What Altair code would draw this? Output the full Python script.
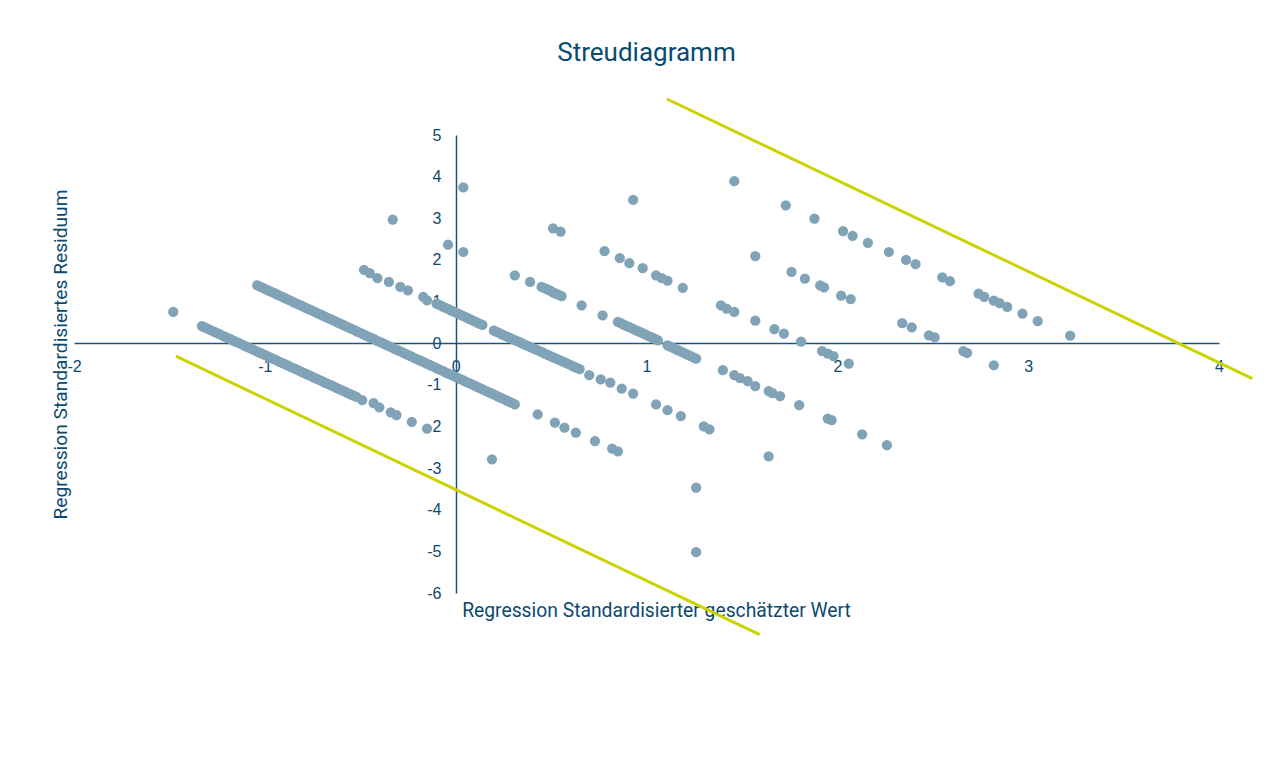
import altair as alt
import pandas as pd

# ---- tick labels ----
x_ticks = [-2, -1, 0, 1, 2, 3, 4]
y_ticks = [-6, -5, -4, -3, -2, -1, 0, 1, 2, 3, 4, 5]

# ---- scatter bands (x = standardized predicted value, y = standardized residual) ----
# band A: isolated first point, dense streak, then separate points
band_a_x = [-1.48,
            -1.330, -1.315, -1.300, -1.285, -1.270, -1.255, -1.240, -1.225, -1.210, -1.195, -1.180,
            -1.165, -1.150, -1.135, -1.120, -1.105, -1.090, -1.075, -1.060, -1.045, -1.030, -1.015,
            -1.000, -0.985, -0.970, -0.955, -0.940, -0.925, -0.910, -0.895, -0.880, -0.865, -0.850,
            -0.835, -0.820, -0.805, -0.790, -0.775, -0.760, -0.745, -0.730, -0.715, -0.700, -0.685,
            -0.670, -0.655, -0.640, -0.625, -0.610, -0.595, -0.580, -0.565, -0.550, -0.535, -0.520,
            -0.49, -0.43, -0.40, -0.34, -0.31, -0.23, -0.15, 0.19, 1.26]
band_a_y = [0.75,
            0.410, 0.379, 0.347, 0.316, 0.284, 0.253, 0.221, 0.190, 0.158, 0.127, 0.095,
            0.064, 0.032, 0.001, -0.031, -0.063, -0.094, -0.126, -0.157, -0.189, -0.220, -0.252,
            -0.283, -0.315, -0.346, -0.378, -0.409, -0.441, -0.472, -0.504, -0.535, -0.567, -0.598,
            -0.630, -0.661, -0.693, -0.724, -0.756, -0.787, -0.819, -0.850, -0.882, -0.913, -0.945,
            -0.976, -1.008, -1.039, -1.071, -1.102, -1.134, -1.165, -1.197, -1.228, -1.260, -1.291,
            -1.37, -1.44, -1.54, -1.66, -1.73, -1.89, -2.05, -2.79, -5.02]

band_b_x = [-1.040, -1.025, -1.010, -0.995, -0.980, -0.965, -0.950, -0.935, -0.920, -0.905, -0.890,
            -0.875, -0.860, -0.845, -0.830, -0.815, -0.800, -0.785, -0.770, -0.755, -0.740, -0.725,
            -0.710, -0.695, -0.680, -0.665, -0.650, -0.635, -0.620, -0.605, -0.590, -0.575, -0.560,
            -0.545, -0.530, -0.515, -0.500, -0.485, -0.470, -0.455, -0.440, -0.425, -0.410, -0.395,
            -0.380, -0.365, -0.350, -0.335, -0.320, -0.305, -0.290, -0.275, -0.260, -0.245, -0.230,
            -0.215, -0.200, -0.185, -0.170, -0.155, -0.140, -0.125, -0.110, -0.095, -0.080, -0.065,
            -0.050, -0.035, -0.020, -0.005, 0.010, 0.025, 0.040, 0.055, 0.070, 0.085, 0.100,
            0.115, 0.130, 0.145, 0.160, 0.175, 0.190, 0.205, 0.220, 0.235, 0.250, 0.265, 0.280,
            0.295, 0.310,
            0.43, 0.52, 0.57, 0.63, 0.73, 0.82, 0.85, 1.26]
band_b_y = [1.390, 1.358, 1.327, 1.295, 1.263, 1.231, 1.200, 1.168, 1.136, 1.104, 1.073,
            1.041, 1.009, 0.977, 0.946, 0.914, 0.882, 0.850, 0.819, 0.787, 0.755, 0.723,
            0.692, 0.660, 0.628, 0.597, 0.565, 0.533, 0.501, 0.470, 0.438, 0.406, 0.374,
            0.343, 0.311, 0.279, 0.247, 0.216, 0.184, 0.152, 0.120, 0.089, 0.057, 0.025,
            -0.007, -0.038, -0.070, -0.102, -0.134, -0.165, -0.197, -0.229, -0.260, -0.292, -0.324,
            -0.356, -0.387, -0.419, -0.451, -0.483, -0.514, -0.546, -0.578, -0.610, -0.641, -0.673,
            -0.705, -0.737, -0.768, -0.800, -0.832, -0.864, -0.895, -0.927, -0.959, -0.991, -1.022,
            -1.054, -1.086, -1.117, -1.149, -1.181, -1.213, -1.244, -1.276, -1.308, -1.340, -1.371,
            -1.403, -1.435, -1.467,
            -1.71, -1.91, -2.03, -2.15, -2.35, -2.53, -2.60, -3.47]

band_c_x = [-0.48, -0.45, -0.41, -0.35, -0.29, -0.25, -0.17, -0.15,
            -0.100, -0.085, -0.070, -0.055, -0.040, -0.025, -0.010, 0.005, 0.020, 0.035, 0.050,
            0.065, 0.080, 0.095, 0.110, 0.125, 0.140,
            0.200, 0.215, 0.230, 0.245, 0.260, 0.275, 0.290, 0.305, 0.320, 0.335, 0.350, 0.365,
            0.380, 0.395, 0.410, 0.425, 0.440, 0.455, 0.470, 0.485, 0.500, 0.515, 0.530, 0.545,
            0.560, 0.575, 0.590, 0.605, 0.620, 0.635, 0.650,
            0.70, 0.76, 0.81, 0.87, 0.93, 1.05, 1.11, 1.18, 1.30, 1.33, 1.64]
band_c_y = [1.76, 1.68, 1.56, 1.47, 1.35, 1.27, 1.11, 1.03,
            0.950, 0.918, 0.886, 0.854, 0.822, 0.790, 0.758, 0.726, 0.694, 0.662, 0.630,
            0.598, 0.566, 0.534, 0.502, 0.470, 0.438,
            0.300, 0.269, 0.239, 0.208, 0.177, 0.146, 0.116, 0.085, 0.054, 0.023, -0.008, -0.038,
            -0.069, -0.100, -0.131, -0.161, -0.192, -0.223, -0.254, -0.284, -0.315, -0.346, -0.377, -0.407,
            -0.438, -0.469, -0.500, -0.530, -0.561, -0.592, -0.623,
            -0.77, -0.87, -0.95, -1.09, -1.21, -1.47, -1.61, -1.75, -2.00, -2.07, -2.72]

band_d_x = [-0.33, -0.04, 0.04, 0.31, 0.39,
            0.450, 0.465, 0.480, 0.495, 0.510, 0.525, 0.540, 0.555,
            0.66, 0.77,
            0.850, 0.865, 0.880, 0.895, 0.910, 0.925, 0.940, 0.955, 0.970, 0.985, 1.000, 1.015,
            1.030, 1.045, 1.060,
            1.110, 1.125, 1.140, 1.155, 1.170, 1.185, 1.200, 1.215, 1.230, 1.245, 1.260,
            1.40, 1.46, 1.49, 1.53, 1.57, 1.64, 1.66, 1.70, 1.80, 1.95, 1.97, 2.13, 2.26]
band_d_y = [2.97, 2.37, 2.19, 1.63, 1.47,
            1.35, 1.32, 1.29, 1.26, 1.22, 1.19, 1.16, 1.13,
            0.91, 0.67,
            0.510, 0.479, 0.447, 0.416, 0.384, 0.353, 0.321, 0.290, 0.258, 0.227, 0.195, 0.164,
            0.132, 0.101, 0.069,
            -0.050, -0.082, -0.114, -0.146, -0.178, -0.210, -0.242, -0.274, -0.306, -0.338, -0.370,
            -0.65, -0.77, -0.84, -0.91, -1.03, -1.15, -1.20, -1.27, -1.49, -1.81, -1.85, -2.19, -2.45]

band_e_x = [0.04, 0.51, 0.55, 0.78, 0.86, 0.91, 0.98, 1.05, 1.08, 1.11, 1.19, 1.39, 1.42, 1.46,
            1.57, 1.67, 1.72, 1.81, 1.92, 1.95, 1.98, 2.06]
band_e_y = [3.74, 2.76, 2.68, 2.21, 2.04, 1.92, 1.80, 1.63, 1.56, 1.50, 1.33, 0.91, 0.83, 0.75,
            0.54, 0.34, 0.23, 0.04, -0.19, -0.25, -0.31, -0.49]

band_f_x = [0.93, 1.57, 1.76, 1.83, 1.91, 1.93, 2.02, 2.07, 2.34, 2.39, 2.48, 2.51, 2.66, 2.68, 2.82]
band_f_y = [3.44, 2.09, 1.71, 1.55, 1.39, 1.34, 1.14, 1.06, 0.48, 0.38, 0.19, 0.14, -0.19, -0.23, -0.53]

band_g_x = [1.46, 1.73, 1.88, 2.03, 2.08, 2.16, 2.27, 2.36, 2.41, 2.55, 2.59, 2.74, 2.77, 2.82,
            2.85, 2.89, 2.97, 3.05, 3.22]
band_g_y = [3.89, 3.31, 2.99, 2.69, 2.58, 2.41, 2.19, 2.00, 1.90, 1.58, 1.49, 1.19, 1.11, 1.02,
            0.96, 0.87, 0.71, 0.53, 0.18]

# ---- guide lines (yellow) ----
upper_line_x = [1.107, 4.175]
upper_line_y = [5.865, -0.849]
lower_line_x = [-1.466, 1.593]
lower_line_y = [-0.3125, -7.00]

# ---- build tables ----
xs = band_a_x + band_b_x + band_c_x + band_d_x + band_e_x + band_f_x + band_g_x
ys = band_a_y + band_b_y + band_c_y + band_d_y + band_e_y + band_f_y + band_g_y
points_df = pd.DataFrame({"x": xs, "y": ys})

lines_df = pd.DataFrame({
    "x": upper_line_x + lower_line_x,
    "y": upper_line_y + lower_line_y,
    "line": ["upper", "upper", "lower", "lower"],
    "order": [0, 1, 0, 1],
})

TEXT = "#0b4a6f"
AXIS = "#1d5579"
POINT = "#80a3b8"
GUIDE = "#c8d300"

PLOT_W = 1145
PLOT_H = 458

x_enc = alt.X(
    "x:Q",
    scale=alt.Scale(domain=[-2, 4], nice=False, zero=False),
    axis=alt.Axis(
        values=x_ticks, orient="bottom", offset=-250, grid=False, ticks=False, tickSize=0,
        labelPadding=15, labelFlush=False, labelOverlap=False,
        labelExpr="'' + datum.value",
        labelFont="Liberation Sans", labelFontSize=16, labelColor=TEXT,
        domainColor=AXIS, domainWidth=1.5,
        title="Regression Standardisierter geschätzter Wert",
        titleX=582, titleY=273, titleAlign="center", titleBaseline="alphabetic",
        titleFont="Roboto", titleFontSize=19.3, titleFontWeight="normal", titleColor=TEXT,
    ),
)
y_enc = alt.Y(
    "y:Q",
    scale=alt.Scale(domain=[-6, 5], nice=False, zero=False),
    axis=alt.Axis(
        values=y_ticks, orient="left", offset=-382, grid=False, ticks=False, tickSize=0,
        labelPadding=15, labelFlush=False, labelOverlap=False,
        labelExpr="'' + datum.value",
        labelFont="Liberation Sans", labelFontSize=16, labelColor=TEXT,
        domainColor=AXIS, domainWidth=1.5,
        title="Regression Standardisiertes Residuum",
        titleX=-390, titleY=219, titleAlign="center", titleBaseline="alphabetic", titleAngle=270,
        titleFont="Roboto", titleFontSize=19.2, titleFontWeight="normal", titleColor=TEXT,
    ),
)

points = alt.Chart(points_df).mark_circle(size=105, color=POINT, opacity=1).encode(x=x_enc, y=y_enc)
lines = alt.Chart(lines_df).mark_line(color=GUIDE, strokeWidth=3, clip=False).encode(
    x=x_enc, y=y_enc, detail="line:N", order="order:Q"
)

chart = alt.layer(points, lines).properties(
    width=PLOT_W,
    height=PLOT_H,
    title=alt.Title("Streudiagramm", fontSize=26, font="Roboto", fontWeight="normal",
                    color=TEXT, anchor="middle", offset=27),
    autosize=alt.AutoSizeParams(type="none"),
    padding={"left": 66, "top": 127, "right": 60, "bottom": 60},
    background="white",
).configure_view(stroke=None)

chart.save("out.html", embed_options={"renderer": "svg", "actions": False})
